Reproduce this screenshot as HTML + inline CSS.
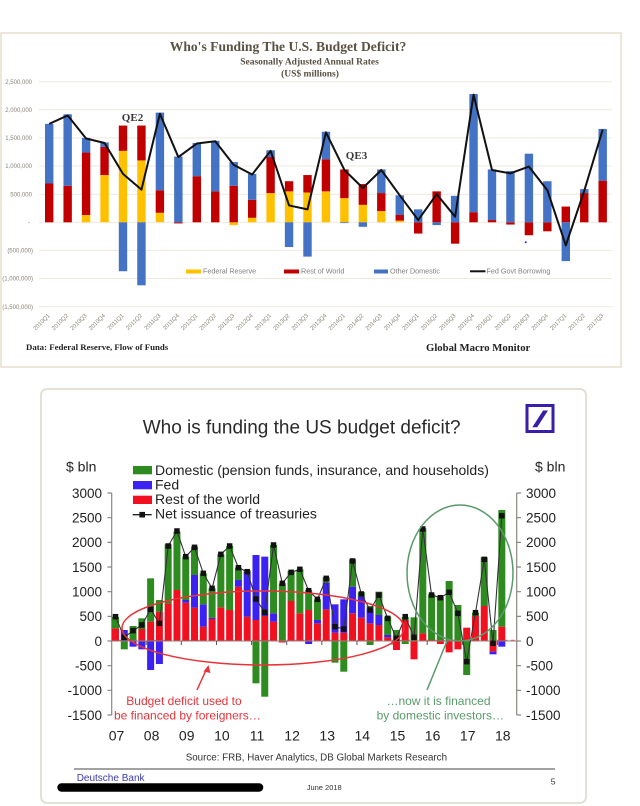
<!DOCTYPE html>
<html><head><meta charset="utf-8"><style>
html,body{margin:0;padding:0;background:#fff;}
svg{display:block;}
.tl{font-family:"Liberation Sans",sans-serif;font-size:6px;fill:#8a8276;}
.xl{font-family:"Liberation Sans",sans-serif;font-size:5.8px;fill:#8a8276;}
.lg{font-family:"Liberation Sans",sans-serif;font-size:7.2px;fill:#7f7f7f;}
.sf{font-family:"Liberation Serif",serif;font-weight:bold;}
.ss{font-family:"Liberation Sans",sans-serif;}
</style></head><body>
<svg width="640" height="806" viewBox="0 0 640 806" xmlns="http://www.w3.org/2000/svg">
<rect x="0" y="0" width="640" height="806" fill="#fff"/>
<!-- TOP CHART -->
<rect x="1" y="33" width="620" height="334" fill="#fff" stroke="#ede7da" stroke-width="2"/>
<text class="sf" x="288" y="51" font-size="13.6" fill="#5a5142" text-anchor="middle">Who's Funding The U.S.  Budget Deficit?</text>
<text class="sf" x="309.5" y="64.5" font-size="9.5" fill="#5a5142" text-anchor="middle">Seasonally Adjusted Annual Rates</text>
<text class="sf" x="310" y="76.5" font-size="9.5" fill="#5a5142" text-anchor="middle">(US$ millions)</text>
<g stroke="#eee9df" stroke-width="1">
<line x1="39" y1="81.7" x2="612" y2="81.7"/><line x1="39" y1="109.8" x2="612" y2="109.8"/>
<line x1="39" y1="137.9" x2="612" y2="137.9"/><line x1="39" y1="166.05" x2="612" y2="166.05"/>
<line x1="39" y1="194.2" x2="612" y2="194.2"/><line x1="39" y1="222.3" x2="612" y2="222.3"/>
<line x1="39" y1="250.4" x2="612" y2="250.4"/><line x1="39" y1="278.55" x2="612" y2="278.55"/>
<line x1="39" y1="306.7" x2="612" y2="306.7"/>
</g>
<g class="tl" text-anchor="end">
<text x="32" y="83.8">2,500,000</text><text x="32" y="111.9">2,000,000</text>
<text x="32" y="140">1,500,000</text><text x="32" y="168.2">1,000,000</text>
<text x="32" y="196.3">500,000</text><text x="30" y="224.4">-</text>
<text x="33" y="252.5">(500,000)</text><text x="33" y="280.7">(1,000,000)</text>
<text x="33" y="308.8">(1,500,000)</text>
</g>
<g>
<g fill="#ffc000">
<rect x="81.9" y="214.99" width="8.4" height="7.31"/><rect x="100.35" y="175.05" width="8.4" height="47.25"/>
<rect x="118.8" y="150.86" width="8.4" height="71.44"/><rect x="137.25" y="160.42" width="8.4" height="61.88"/>
<rect x="155.7" y="212.74" width="8.4" height="9.56"/><rect x="229.5" y="222.3" width="8.4" height="2.81"/>
<rect x="247.95" y="217.8" width="8.4" height="4.5"/><rect x="266.4" y="193.05" width="8.4" height="29.25"/>
<rect x="284.85" y="191.36" width="8.4" height="30.94"/><rect x="303.3" y="192.49" width="8.4" height="29.81"/>
<rect x="321.75" y="191.36" width="8.4" height="30.94"/><rect x="340.2" y="198.11" width="8.4" height="24.19"/>
<rect x="358.65" y="204.86" width="8.4" height="17.44"/><rect x="377.1" y="211.05" width="8.4" height="11.25"/>
<rect x="395.55" y="220.61" width="8.4" height="1.69"/>
</g>
<g fill="#c00000">
<rect x="45" y="183.49" width="8.4" height="38.81"/><rect x="63.45" y="185.74" width="8.4" height="36.56"/>
<rect x="81.9" y="152.55" width="8.4" height="62.44"/><rect x="100.35" y="146.92" width="8.4" height="28.13"/>
<rect x="118.8" y="125.55" width="8.4" height="25.31"/><rect x="137.25" y="125.55" width="8.4" height="34.87"/>
<rect x="155.7" y="190.24" width="8.4" height="22.5"/><rect x="174.15" y="222.3" width="8.4" height="1.13"/>
<rect x="192.6" y="176.17" width="8.4" height="46.13"/><rect x="211.05" y="191.36" width="8.4" height="30.94"/>
<rect x="229.5" y="185.74" width="8.4" height="36.56"/><rect x="247.95" y="199.8" width="8.4" height="18"/>
<rect x="266.4" y="157.05" width="8.4" height="36"/><rect x="284.85" y="181.24" width="8.4" height="10.12"/>
<rect x="303.3" y="175.05" width="8.4" height="17.44"/><rect x="321.75" y="159.3" width="8.4" height="32.06"/>
<rect x="340.2" y="169.42" width="8.4" height="28.69"/><rect x="358.65" y="184.05" width="8.4" height="20.81"/>
<rect x="377.1" y="193.05" width="8.4" height="18"/><rect x="395.55" y="214.99" width="8.4" height="5.62"/>
<rect x="414" y="222.3" width="8.4" height="11.25"/><rect x="432.45" y="191.36" width="8.4" height="30.94"/>
<rect x="450.9" y="222.3" width="8.4" height="21.38"/><rect x="469.35" y="212.17" width="8.4" height="10.13"/>
<rect x="487.8" y="220.05" width="8.4" height="2.25"/><rect x="506.25" y="222.3" width="8.4" height="2.25"/>
<rect x="524.7" y="222.3" width="8.4" height="12.94"/><rect x="543.15" y="222.3" width="8.4" height="9"/>
<rect x="561.6" y="206.55" width="8.4" height="15.75"/><rect x="580.05" y="193.05" width="8.4" height="29.25"/>
<rect x="598.5" y="180.67" width="8.4" height="41.63"/>
</g>
<g fill="#4472c4">
<rect x="45" y="123.86" width="8.4" height="59.63"/><rect x="63.45" y="114.3" width="8.4" height="71.44"/>
<rect x="81.9" y="137.92" width="8.4" height="14.63"/><rect x="100.35" y="142.42" width="8.4" height="4.5"/>
<rect x="118.8" y="222.3" width="8.4" height="48.94"/><rect x="137.25" y="222.3" width="8.4" height="63"/>
<rect x="155.7" y="112.61" width="8.4" height="77.63"/><rect x="174.15" y="156.49" width="8.4" height="65.81"/>
<rect x="192.6" y="142.99" width="8.4" height="33.18"/><rect x="211.05" y="140.74" width="8.4" height="50.62"/>
<rect x="229.5" y="162.11" width="8.4" height="23.63"/><rect x="247.95" y="173.92" width="8.4" height="25.88"/>
<rect x="266.4" y="150.3" width="8.4" height="6.75"/><rect x="284.85" y="222.3" width="8.4" height="24.75"/>
<rect x="303.3" y="222.3" width="8.4" height="34.31"/><rect x="321.75" y="131.74" width="8.4" height="27.56"/>
<rect x="340.2" y="222.3" width="8.4" height="0.8"/><rect x="358.65" y="222.3" width="8.4" height="4.5"/>
<rect x="377.1" y="169.42" width="8.4" height="23.63"/><rect x="395.55" y="195.3" width="8.4" height="19.69"/>
<rect x="414" y="209.36" width="8.4" height="12.94"/><rect x="432.45" y="222.3" width="8.4" height="2.81"/>
<rect x="450.9" y="195.86" width="8.4" height="26.44"/><rect x="469.35" y="94.05" width="8.4" height="118.12"/>
<rect x="487.8" y="169.42" width="8.4" height="50.63"/><rect x="506.25" y="171.11" width="8.4" height="51.19"/>
<rect x="524.7" y="153.67" width="8.4" height="68.63"/><rect x="543.15" y="181.24" width="8.4" height="41.06"/>
<rect x="561.6" y="222.3" width="8.4" height="38.81"/><rect x="580.05" y="189.11" width="8.4" height="3.94"/>
<rect x="598.5" y="128.92" width="8.4" height="51.75"/>
</g>
</g>
<polyline fill="none" stroke="#111" stroke-width="2" stroke-linejoin="round" points="49.2,123.86 67.65,115.42 86.1,138.49 104.55,142.99 123,173.92 141.45,189.67 159.9,113.74 178.35,157.05 196.8,143.55 215.25,141.3 233.7,164.92 252.15,174.49 270.6,150.86 289.05,205.42 307.5,209.36 325.95,132.3 344.4,169.99 362.85,187.99 381.3,169.99 399.75,195.3 418.2,220.05 436.65,194.17 455.1,216.68 473.55,94.61 492,169.99 510.45,173.36 528.9,166.61 547.35,190.24 565.8,245.36 584.25,190.8 602.7,129.49"/>
<circle cx="525.7" cy="242.3" r="1" fill="#2020ff"/>
<text class="sf" x="132.5" y="121.2" font-size="11" fill="#3a3a3a" text-anchor="middle">QE2</text>
<text class="sf" x="356.5" y="158.9" font-size="11" fill="#3a3a3a" text-anchor="middle">QE3</text>
<!-- legend -->
<rect x="186" y="269.5" width="15" height="4" fill="#ffc000"/>
<text class="lg" x="203" y="273.6">Federal Reserve</text>
<rect x="284" y="269.5" width="15" height="4" fill="#c00000"/>
<text class="lg" x="301" y="273.6">Rest of World</text>
<rect x="374" y="269.5" width="14" height="4" fill="#4472c4"/>
<text class="lg" x="390" y="273.6">Other Domestic</text>
<line x1="470" y1="271.3" x2="485.5" y2="271.3" stroke="#111" stroke-width="2"/>
<text class="lg" x="486.5" y="273.6">Fed Govt Borrowing</text>
<!-- x labels -->
<g class="xl" text-anchor="end">
<text transform="translate(50.2,316) rotate(-45)">2010Q1</text>
<text transform="translate(68.65,316) rotate(-45)">2010Q2</text>
<text transform="translate(87.1,316) rotate(-45)">2010Q3</text>
<text transform="translate(105.55,316) rotate(-45)">2010Q4</text>
<text transform="translate(124,316) rotate(-45)">2011Q1</text>
<text transform="translate(142.45,316) rotate(-45)">2011Q2</text>
<text transform="translate(160.9,316) rotate(-45)">2011Q3</text>
<text transform="translate(179.35,316) rotate(-45)">2011Q4</text>
<text transform="translate(197.8,316) rotate(-45)">2012Q1</text>
<text transform="translate(216.25,316) rotate(-45)">2012Q2</text>
<text transform="translate(234.7,316) rotate(-45)">2012Q3</text>
<text transform="translate(253.15,316) rotate(-45)">2012Q4</text>
<text transform="translate(271.6,316) rotate(-45)">2013Q1</text>
<text transform="translate(290.05,316) rotate(-45)">2013Q2</text>
<text transform="translate(308.5,316) rotate(-45)">2013Q3</text>
<text transform="translate(326.95,316) rotate(-45)">2013Q4</text>
<text transform="translate(345.4,316) rotate(-45)">2014Q1</text>
<text transform="translate(363.85,316) rotate(-45)">2014Q2</text>
<text transform="translate(382.3,316) rotate(-45)">2014Q3</text>
<text transform="translate(400.75,316) rotate(-45)">2014Q4</text>
<text transform="translate(419.2,316) rotate(-45)">2015Q1</text>
<text transform="translate(437.65,316) rotate(-45)">2015Q2</text>
<text transform="translate(456.1,316) rotate(-45)">2015Q3</text>
<text transform="translate(474.55,316) rotate(-45)">2015Q4</text>
<text transform="translate(493,316) rotate(-45)">2016Q1</text>
<text transform="translate(511.45,316) rotate(-45)">2016Q2</text>
<text transform="translate(529.9,316) rotate(-45)">2016Q3</text>
<text transform="translate(548.35,316) rotate(-45)">2016Q4</text>
<text transform="translate(566.8,316) rotate(-45)">2017Q1</text>
<text transform="translate(585.25,316) rotate(-45)">2017Q2</text>
<text transform="translate(603.7,316) rotate(-45)">2017Q3</text>
</g>
<text class="sf" x="26" y="349.8" font-size="8.8" fill="#222">Data: Federal Reserve, Flow of Funds</text>
<text class="sf" x="426" y="351" font-size="10.7" fill="#222">Global Macro Monitor</text>

<!-- BOTTOM CHART -->
<rect x="41" y="389" width="545" height="414" rx="6" ry="6" fill="#fff" stroke="#e4e0d6" stroke-width="2"/>
<text class="ss" x="142.7" y="433.3" font-size="19" fill="#2a2a2a">Who is funding the US budget deficit?</text>
<rect x="527" y="405.5" width="26" height="26" fill="none" stroke="#3a1ea8" stroke-width="3"/>
<polygon points="532.3,427.2 537.2,427.2 548,410.5 543.1,410.5" fill="#3a1ea8"/>
<text class="ss" x="66" y="471.7" font-size="14" fill="#222">$ bln</text>
<text class="ss" x="535" y="471.7" font-size="14" fill="#222">$ bln</text>
<!-- legend -->
<rect x="133" y="466" width="19" height="8.3" fill="#2e8b20"/>
<text class="ss" x="155" y="475" font-size="14" fill="#222">Domestic (pension funds, insurance, and households)</text>
<rect x="133" y="481" width="19" height="8.3" fill="#3b22f2"/>
<text class="ss" x="155" y="489.5" font-size="14" fill="#222">Fed</text>
<rect x="133" y="495.7" width="19" height="8.3" fill="#f01020"/>
<text class="ss" x="155" y="504" font-size="14" fill="#222">Rest of the world</text>
<line x1="132.7" y1="514.7" x2="151.7" y2="514.7" stroke="#222" stroke-width="1.3"/>
<rect x="139.4" y="511.9" width="5.6" height="5.6" fill="#111"/>
<text class="ss" x="155" y="518.5" font-size="14" fill="#222">Net issuance of treasuries</text>
<!-- axes -->
<g stroke="#8a8680" stroke-width="1.2" fill="none">
<line x1="111.7" y1="493" x2="111.7" y2="715"/>
<line x1="516.7" y1="493" x2="516.7" y2="715"/>
<path d="M107.5 493H111.7M107.5 517.67H111.7M107.5 542.34H111.7M107.5 567H111.7M107.5 591.67H111.7M107.5 616.34H111.7M107.5 641H111.7M107.5 665.67H111.7M107.5 690.33H111.7M107.5 715H111.7"/>
<path d="M516.7 493H521M516.7 517.67H521M516.7 542.34H521M516.7 567H521M516.7 591.67H521M516.7 616.34H521M516.7 641H521M516.7 665.67H521M516.7 690.33H521M516.7 715H521"/>
</g>
<g class="ss" font-size="13.5" fill="#222" text-anchor="end">
<text x="102" y="497.8">3000</text><text x="102" y="522.5">2500</text>
<text x="102" y="547.1">2000</text><text x="102" y="571.8">1500</text>
<text x="102" y="596.5">1000</text><text x="102" y="621.1">500</text>
<text x="102" y="645.8">0</text><text x="102" y="670.5">-500</text>
<text x="102" y="695.1">-1000</text><text x="102" y="719.8">-1500</text>
</g>
<g class="ss" font-size="13.5" fill="#222">
<text x="526" y="497.8">3000</text><text x="526" y="522.5">2500</text>
<text x="526" y="547.1">2000</text><text x="526" y="571.8">1500</text>
<text x="526" y="596.5">1000</text><text x="526" y="621.1">500</text>
<text x="526" y="645.8">0</text><text x="526" y="670.5">-500</text>
<text x="526" y="695.1">-1000</text><text x="526" y="719.8">-1500</text>
</g>
<!-- bars -->
<g fill="#f01020">
<rect x="112" y="628.32" width="7" height="12.68"/><rect x="138.34" y="629.01" width="7" height="11.99"/>
<rect x="147.12" y="621.66" width="7" height="19.34"/><rect x="155.9" y="611.65" width="7" height="29.35"/>
<rect x="164.68" y="603.31" width="7" height="37.69"/><rect x="173.46" y="589.99" width="7" height="51.01"/>
<rect x="182.24" y="602.67" width="7" height="38.33"/><rect x="191.02" y="607.65" width="7" height="33.35"/>
<rect x="199.8" y="626.69" width="7" height="14.31"/><rect x="208.58" y="619" width="7" height="22"/>
<rect x="217.36" y="607.36" width="7" height="33.64"/><rect x="226.14" y="610.02" width="7" height="30.98"/>
<rect x="234.92" y="586.69" width="7" height="54.31"/><rect x="243.7" y="616.68" width="7" height="24.32"/>
<rect x="252.48" y="619.99" width="7" height="21.01"/><rect x="261.26" y="615.99" width="7" height="25.01"/>
<rect x="270.04" y="621.66" width="7" height="19.34"/><rect x="278.82" y="641" width="7" height="1.48"/>
<rect x="287.6" y="600.99" width="7" height="40.01"/><rect x="296.38" y="613.33" width="7" height="27.67"/>
<rect x="305.16" y="610.02" width="7" height="30.98"/><rect x="313.94" y="623.34" width="7" height="17.66"/>
<rect x="322.72" y="609.33" width="7" height="31.67"/><rect x="331.5" y="632.66" width="7" height="8.34"/>
<rect x="340.28" y="632.66" width="7" height="8.34"/><rect x="349.06" y="613.33" width="7" height="27.67"/>
<rect x="357.84" y="617.67" width="7" height="23.33"/><rect x="366.62" y="623.34" width="7" height="17.66"/>
<rect x="375.4" y="625.02" width="7" height="15.98"/><rect x="384.18" y="637.35" width="7" height="3.65"/>
<rect x="392.96" y="641" width="7" height="8.98"/><rect x="401.74" y="619.99" width="7" height="21.01"/>
<rect x="410.52" y="641" width="7" height="18.35"/><rect x="419.3" y="633.35" width="7" height="7.65"/>
<rect x="428.08" y="640.01" width="7" height="0.99"/><rect x="436.86" y="641" width="7" height="3.01"/>
<rect x="445.64" y="641" width="7" height="11.35"/><rect x="454.42" y="641" width="7" height="8.34"/>
<rect x="463.2" y="627.68" width="7" height="13.32"/><rect x="471.98" y="615.99" width="7" height="25.01"/>
<rect x="480.76" y="606.02" width="7" height="34.98"/><rect x="489.54" y="641" width="7" height="10.66"/>
<rect x="498.32" y="626.69" width="7" height="14.31"/>
</g>
<g fill="#3b22f2">
<rect x="120.78" y="630" width="7" height="11"/><rect x="129.56" y="641" width="7" height="5.67"/>
<rect x="138.34" y="641" width="7" height="8.34"/><rect x="147.12" y="641" width="7" height="29"/>
<rect x="155.9" y="641" width="7" height="22.99"/><rect x="182.24" y="600.01" width="7" height="2.66"/>
<rect x="191.02" y="575" width="7" height="32.65"/><rect x="199.8" y="604.35" width="7" height="22.34"/>
<rect x="208.58" y="617.67" width="7" height="1.33"/><rect x="234.92" y="580.03" width="7" height="6.66"/>
<rect x="243.7" y="571.69" width="7" height="44.99"/><rect x="252.48" y="555.02" width="7" height="64.97"/>
<rect x="261.26" y="556.65" width="7" height="59.34"/><rect x="270.04" y="613.33" width="7" height="8.33"/>
<rect x="305.16" y="641" width="7" height="3.01"/><rect x="313.94" y="619.99" width="7" height="3.35"/>
<rect x="322.72" y="582.69" width="7" height="26.64"/><rect x="331.5" y="604.35" width="7" height="28.31"/>
<rect x="340.28" y="599.32" width="7" height="33.34"/><rect x="349.06" y="586.69" width="7" height="26.64"/>
<rect x="357.84" y="596.65" width="7" height="21.02"/><rect x="366.62" y="608.34" width="7" height="15"/>
<rect x="375.4" y="615" width="7" height="10.02"/><rect x="384.18" y="634.98" width="7" height="2.37"/>
<rect x="489.54" y="651.66" width="7" height="2.66"/><rect x="498.32" y="641" width="7" height="5.67"/>
</g>
<g fill="#2e8b20">
<rect x="112" y="616.83" width="7" height="11.49"/><rect x="120.78" y="641" width="7" height="8.34"/>
<rect x="129.56" y="626" width="7" height="15"/><rect x="138.34" y="618.31" width="7" height="10.7"/>
<rect x="147.12" y="578.35" width="7" height="43.31"/><rect x="155.9" y="600.06" width="7" height="11.59"/>
<rect x="164.68" y="544.31" width="7" height="59"/><rect x="173.46" y="531.68" width="7" height="58.31"/>
<rect x="182.24" y="556.65" width="7" height="43.36"/><rect x="191.02" y="546.68" width="7" height="28.32"/>
<rect x="199.8" y="573.32" width="7" height="31.03"/><rect x="208.58" y="588.32" width="7" height="29.35"/>
<rect x="217.36" y="554.33" width="7" height="53.03"/><rect x="226.14" y="545.99" width="7" height="64.03"/>
<rect x="234.92" y="567.7" width="7" height="12.33"/><rect x="243.7" y="570.21" width="7" height="1.48"/>
<rect x="252.48" y="641" width="7" height="42.33"/><rect x="261.26" y="641" width="7" height="55.69"/>
<rect x="270.04" y="545" width="7" height="68.33"/><rect x="278.82" y="583.33" width="7" height="57.67"/>
<rect x="287.6" y="571" width="7" height="30"/><rect x="296.38" y="569.32" width="7" height="44.01"/>
<rect x="305.16" y="589.99" width="7" height="20.03"/><rect x="313.94" y="599.32" width="7" height="20.67"/>
<rect x="322.72" y="577.32" width="7" height="5.37"/><rect x="331.5" y="641" width="7" height="21.66"/>
<rect x="340.28" y="641" width="7" height="30.68"/><rect x="349.06" y="559.36" width="7" height="27.33"/>
<rect x="357.84" y="592.31" width="7" height="4.34"/><rect x="366.62" y="606.02" width="7" height="2.32"/>
<rect x="366.62" y="641" width="7" height="4"/><rect x="375.4" y="591.67" width="7" height="23.33"/>
<rect x="384.18" y="616.68" width="7" height="18.3"/><rect x="392.96" y="630" width="7" height="11"/>
<rect x="401.74" y="617.03" width="7" height="2.96"/><rect x="401.74" y="641" width="7" height="3.01"/>
<rect x="410.52" y="617.32" width="7" height="23.68"/><rect x="419.3" y="528.33" width="7" height="105.02"/>
<rect x="428.08" y="594.33" width="7" height="45.68"/><rect x="436.86" y="596.65" width="7" height="44.35"/>
<rect x="445.64" y="581.01" width="7" height="59.99"/><rect x="454.42" y="604.99" width="7" height="36.01"/>
<rect x="463.2" y="641" width="7" height="33.99"/><rect x="471.98" y="612.68" width="7" height="3.31"/>
<rect x="480.76" y="557.34" width="7" height="48.68"/><rect x="489.54" y="630" width="7" height="11"/>
<rect x="498.32" y="510.03" width="7" height="116.66"/>
</g>
<!-- zero line and ticks -->
<line x1="111.7" y1="641" x2="516.7" y2="641" stroke="#8a8680" stroke-width="1"/>
<line x1="111.7" y1="640.3" x2="516.7" y2="640.3" stroke="#e8333a" stroke-width="1" stroke-dasharray="4,3" opacity="0.7"/>
<path d="M146.23 641v4M181.35 641v4M216.47 641v4M251.59 641v4M286.71 641v4M321.83 641v4M356.95 641v4M392.07 641v4M427.19 641v4M462.31 641v4M497.43 641v4" stroke="#555" stroke-width="1"/>
<!-- net issuance line -->
<polyline fill="none" stroke="#333" stroke-width="1.1" points="115.5,616.68 124.28,637.35 133.06,630.64 141.84,625.02 150.62,609.33 159.4,623.34 168.18,546 176.96,530.99 185.74,556.65 194.52,547.32 203.3,573.32 212.08,588.32 220.86,554.33 229.64,545.99 238.42,567.7 247.2,571.69 255.98,599.02 264.76,612.34 273.54,545 282.32,583.33 291.1,572.33 299.88,569.32 308.66,590.68 317.44,599.32 326.22,578.35 335,626.69 343.78,629.01 352.56,560.99 361.34,593.99 370.12,610.02 378.9,595.02 387.68,618.36 396.46,638.34 405.24,616.68 414.02,637.35 422.8,529.02 431.58,595.02 440.36,597.69 449.14,592.31 457.92,613.33 466.7,661.67 475.48,612.68 484.26,559.36 493.04,643.32 501.82,515.7"/>
<defs><rect id="m" x="-2.75" y="-2.75" width="5.5" height="5.5" fill="#111"/></defs>
<g>
<use href="#m" x="115.5" y="616.68"/><use href="#m" x="124.28" y="637.35"/><use href="#m" x="133.06" y="630.64"/>
<use href="#m" x="141.84" y="625.02"/><use href="#m" x="150.62" y="609.33"/><use href="#m" x="159.4" y="623.34"/>
<use href="#m" x="168.18" y="546"/><use href="#m" x="176.96" y="530.99"/><use href="#m" x="185.74" y="556.65"/>
<use href="#m" x="194.52" y="547.32"/><use href="#m" x="203.3" y="573.32"/><use href="#m" x="212.08" y="588.32"/>
<use href="#m" x="220.86" y="554.33"/><use href="#m" x="229.64" y="545.99"/><use href="#m" x="238.42" y="567.7"/>
<use href="#m" x="247.2" y="571.69"/><use href="#m" x="255.98" y="599.02"/><use href="#m" x="264.76" y="612.34"/>
<use href="#m" x="273.54" y="545"/><use href="#m" x="282.32" y="583.33"/><use href="#m" x="291.1" y="572.33"/>
<use href="#m" x="299.88" y="569.32"/><use href="#m" x="308.66" y="590.68"/><use href="#m" x="317.44" y="599.32"/>
<use href="#m" x="326.22" y="578.35"/><use href="#m" x="335" y="626.69"/><use href="#m" x="343.78" y="629.01"/>
<use href="#m" x="352.56" y="560.99"/><use href="#m" x="361.34" y="593.99"/><use href="#m" x="370.12" y="610.02"/>
<use href="#m" x="378.9" y="595.02"/><use href="#m" x="387.68" y="618.36"/><use href="#m" x="396.46" y="638.34"/>
<use href="#m" x="405.24" y="616.68"/><use href="#m" x="414.02" y="637.35"/><use href="#m" x="422.8" y="529.02"/>
<use href="#m" x="431.58" y="595.02"/><use href="#m" x="440.36" y="597.69"/><use href="#m" x="449.14" y="592.31"/>
<use href="#m" x="457.92" y="613.33"/><use href="#m" x="466.7" y="661.67"/><use href="#m" x="475.48" y="612.68"/>
<use href="#m" x="484.26" y="559.36"/><use href="#m" x="493.04" y="643.32"/><use href="#m" x="501.82" y="515.7"/>
</g>
<!-- annotations -->
<ellipse cx="263" cy="628" rx="141" ry="37" fill="none" stroke="#e8333a" stroke-width="1.5"/>
<ellipse cx="460" cy="573" rx="53" ry="68" fill="none" stroke="#5a9a6a" stroke-width="1.5"/>
<line x1="197" y1="690" x2="206.5" y2="669" stroke="#e8333a" stroke-width="1.5"/>
<polygon points="208.5,665 203.6,671.5 210.4,673" fill="#e8333a"/>
<line x1="427" y1="690" x2="447" y2="641" stroke="#5a9a6a" stroke-width="1.5"/>
<text class="ss" x="184" y="705" font-size="12" fill="#e8333a" text-anchor="middle">Budget deficit used to</text>
<text class="ss" x="114" y="719.3" font-size="12" fill="#e8333a">be financed by foreigners…</text>
<text class="ss" x="490.5" y="705" font-size="12" fill="#5a9a6a" text-anchor="end">…now it is financed</text>
<text class="ss" x="504" y="719.3" font-size="12" fill="#5a9a6a" text-anchor="end">by domestic investors…</text>
<!-- year labels -->
<g class="ss" font-size="14" fill="#222" text-anchor="middle">
<text x="116.5" y="740.7">07</text><text x="151.6" y="740.7">08</text><text x="186.7" y="740.7">09</text>
<text x="221.9" y="740.7">10</text><text x="257" y="740.7">11</text><text x="292.1" y="740.7">12</text>
<text x="327.2" y="740.7">13</text><text x="362.3" y="740.7">14</text><text x="397.5" y="740.7">15</text>
<text x="432.6" y="740.7">16</text><text x="467.7" y="740.7">17</text><text x="502.8" y="740.7">18</text>
</g>
<text class="ss" x="185.7" y="760.7" font-size="9.8" fill="#333">Source: FRB, Haver Analytics, DB Global Markets Research</text>
<line x1="74" y1="769" x2="555" y2="769" stroke="#444" stroke-width="1"/>
<text class="ss" x="76.7" y="780.8" font-size="10" fill="#3a3ab0">Deutsche Bank</text>
<rect x="57.3" y="783.3" width="206" height="8.4" rx="4.2" ry="4.2" fill="#000"/>
<text class="ss" x="306.7" y="790" font-size="7.5" fill="#333">June 2018</text>
<text class="ss" x="550.7" y="784.5" font-size="8.5" fill="#333">5</text>
</svg>
</body></html>
